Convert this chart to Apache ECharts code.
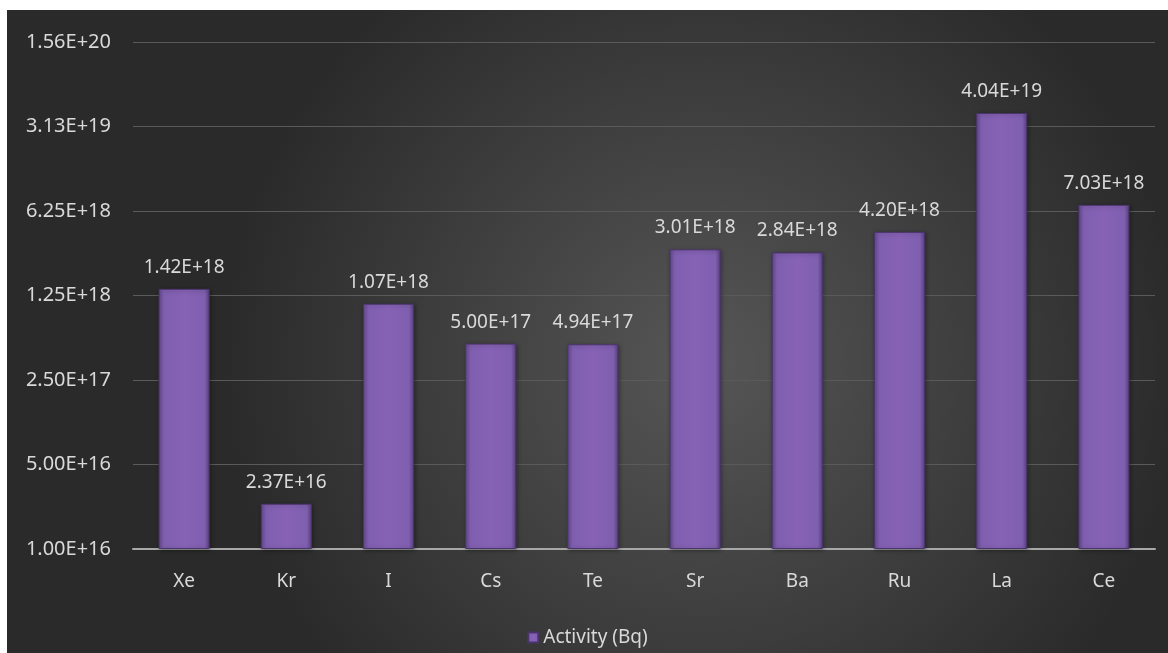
<!DOCTYPE html>
<html style="height: 100%">
<head>
    <meta charset="utf-8">
</head>
<body style="height: 100%; margin: 0; background: #ffffff">
<div id="container" style="position: absolute; left: 7px; top: 10px; width: 1161px; height: 643px"></div>
<script src="https://cdn.jsdelivr.net/npm/echarts@6/dist/echarts.min.js"></script>
<script type="text/javascript">
    // data
    var nuclides = ['Xe', 'Kr', 'I', 'Cs', 'Te', 'Sr', 'Ba', 'Ru', 'La', 'Ce'];
    var activity = [1.42e18, 2.37e16, 1.07e18, 5.00e17, 4.94e17, 3.01e18, 2.84e18, 4.20e18, 4.04e19, 7.03e18];
    var tickLabels = ['1.00E+16', '5.00E+16', '2.50E+17', '1.25E+18', '6.25E+18', '3.13E+19', '1.56E+20'];
    var logBase = 5;
    var baseValue = 1e16;

    // log axis drawn on a linear axis of steps (base 5, from 1E+16)
    function toStep(v) {
        return Math.log(v / baseValue) / Math.log(logBase);
    }
    function fmt(v) {
        return v.toExponential(2).toUpperCase();
    }

    var barData = activity.map(function (v) {
        return { value: toStep(v), raw: v };
    });

    var dom = document.getElementById("container");
    var myChart = echarts.init(dom);
    var font = 'Noto Sans';

    var option = {
        backgroundColor: {
            type: 'radial', x: 0.6, y: 0.55, r: 0.75,
            colorStops: [
                { offset: 0, color: '#565656' },
                { offset: 1, color: '#2a2a2a' }
            ]
        },
        grid: { left: 126, right: 13, top: 32, bottom: 104 },
        legend: {
            bottom: 1,
            left: 'center',
            itemWidth: 10,
            itemHeight: 10,
            itemGap: 6,
            icon: 'rect',
            textStyle: { color: '#d9d9d9', fontSize: 19, fontFamily: font },
            data: ['Activity (Bq)']
        },
        xAxis: {
            type: 'category',
            data: nuclides,
            axisLine: { lineStyle: { color: '#a8a8a8', width: 2 } },
            axisTick: { show: false },
            axisLabel: { color: '#d9d9d9', fontSize: 19, fontFamily: font, margin: 23 }
        },
        yAxis: {
            type: 'value',
            min: 0,
            max: 6,
            interval: 1,
            axisLine: { show: false },
            axisTick: { show: false },
            splitLine: { lineStyle: { color: '#5a5a5a', width: 1 } },
            axisLabel: {
                color: '#d9d9d9', fontSize: 20, fontFamily: font, margin: 22,
                formatter: function (v) { return tickLabels[Math.round(v)]; }
            }
        },
        series: [{
            name: 'Activity (Bq)',
            type: 'bar',
            barWidth: '50%',
            data: barData,
            itemStyle: {
                color: {
                    type: 'linear', x: 0, y: 0, x2: 1, y2: 0,
                    colorStops: [
                        { offset: 0, color: '#654990' },
                        { offset: 0.1, color: '#7f5faf' },
                        { offset: 0.5, color: '#8762b6' },
                        { offset: 0.9, color: '#7f5faf' },
                        { offset: 1, color: '#5b4182' }
                    ]
                },
                borderColor: '#4a356b',
                borderWidth: 1,
                shadowColor: 'rgba(0,0,0,0.35)',
                shadowBlur: 4,
                shadowOffsetX: 1,
                shadowOffsetY: 1
            },
            label: {
                show: true,
                position: 'top',
                distance: 12,
                color: '#d9d9d9',
                fontSize: 19,
                fontFamily: font,
                formatter: function (p) { return fmt(p.data.raw); }
            }
        }]
    };

    myChart.setOption(option);
    window.addEventListener("resize", function () {
        myChart.resize();
    });
</script>
</body>
</html>
